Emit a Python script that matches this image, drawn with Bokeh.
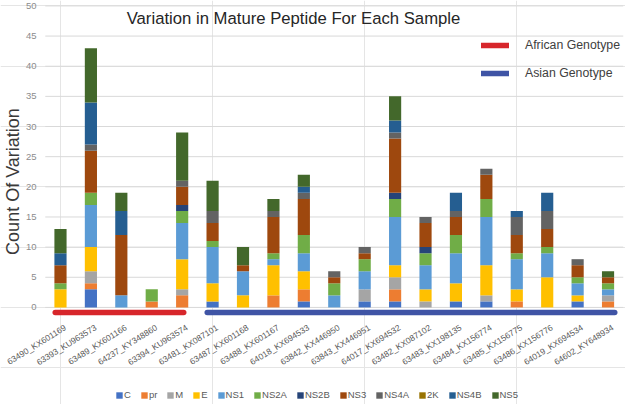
import math
from bokeh.plotting import figure
from bokeh.models import (Range1d, Legend, LegendItem, Label, ColumnDataSource)
from bokeh.core.properties import value
from bokeh.embed import file_html
from bokeh.resources import INLINE

# ---------------- data ----------------
samples = ["63490_KX601169", "63393_KU963573", "63489_KX601166", "64237_KY348860",
           "63394_KU963574", "63481_KX087101", "63487_KX601168", "63488_KX601167",
           "64018_KX694533", "63842_KX446950", "63843_KX446951", "64017_KX694532",
           "63482_KX087102", "63483_KX198135", "63484_KX156774", "63485_KX156775",
           "63486_KX156776", "64019_KX694534", "64602_KY648934"]

segments = ["C", "pr", "M", "E", "NS1", "NS2A", "NS2B", "NS3", "NS4A", "2K", "NS4B", "NS5"]

C    = [0, 3, 0, 0, 0, 1, 0, 0, 1, 0, 1, 1, 0, 1, 1, 0, 0, 1, 0]
pr   = [0, 1, 0, 1, 2, 0, 0, 2, 2, 0, 0, 2, 0, 0, 0, 1, 0, 0, 1]
M    = [0, 2, 0, 0, 1, 0, 0, 0, 0, 0, 2, 2, 1, 0, 1, 0, 0, 0, 1]
E    = [3, 4, 0, 0, 5, 3, 2, 5, 3, 0, 0, 2, 2, 3, 5, 2, 5, 1, 0]
NS1  = [0, 7, 2, 0, 6, 6, 4, 1, 3, 2, 3, 8, 4, 5, 8, 5, 4, 2, 1]
NS2A = [1, 2, 0, 2, 2, 1, 0, 1, 3, 2, 2, 3, 2, 3, 3, 1, 1, 1, 1]
NS2B = [0, 0, 0, 0, 1, 0, 0, 0, 0, 0, 0, 1, 1, 0, 0, 0, 0, 0, 0]
NS3  = [3, 7, 10, 0, 3, 3, 1, 6, 6, 1, 1, 9, 4, 3, 4, 3, 3, 2, 1]
NS4A = [0, 1, 0, 0, 1, 2, 0, 1, 1, 1, 1, 1, 1, 1, 1, 3, 3, 1, 0]
K2   = [0, 0, 0, 0, 0, 0, 0, 0, 0, 0, 0, 0, 0, 0, 0, 0, 0, 0, 0]
NS4B = [2, 7, 4, 0, 0, 0, 0, 0, 1, 0, 0, 2, 0, 3, 0, 1, 3, 0, 0]
NS5  = [4, 9, 3, 0, 8, 5, 3, 2, 2, 0, 0, 4, 0, 0, 0, 0, 0, 0, 1]

african_samples = samples[:5]
asian_samples = samples[5:]
genotype_labels = ["African Genotype", "Asian Genotype"]

y_ticks = [0, 5, 10, 15, 20, 25, 30, 35, 40, 45, 50]
title_text = "Variation in Mature Peptide For Each Sample"
y_title = "Count Of Variation"

# ---------------- style ----------------
colors = ["#4472C4", "#ED7D31", "#A5A5A5", "#FFC000", "#5B9BD5", "#70AD47",
          "#264478", "#9E480E", "#636363", "#997300", "#255E91", "#43682B"]
FONT = "Liberation Sans"

n = len(samples)
idx = list(range(n))
source = ColumnDataSource(dict(
    idx=idx, C=C, pr=pr, M=M, E=E, NS1=NS1, NS2A=NS2A, NS2B=NS2B,
    NS3=NS3, NS4A=NS4A, K2=K2, NS4B=NS4B, NS5=NS5))
stack_cols = ["C", "pr", "M", "E", "NS1", "NS2A", "NS2B", "NS3", "NS4A", "K2", "NS4B", "NS5"]

p = figure(x_range=Range1d(-1.972, 18.574), y_range=Range1d(-16.1, 50.9),
           frame_width=625, frame_height=404,
           min_border_left=0, min_border_right=0, min_border_top=0, min_border_bottom=0,
           x_axis_location=None, y_axis_location=None,
           output_backend="svg", toolbar_location=None,
           background_fill_color="white", border_fill_color="white")
p.outline_line_color = None

# horizontal grid lines at the value ticks, across the category band
p.segment(x0=[-0.5] * len(y_ticks), x1=[n - 0.5] * len(y_ticks), y0=y_ticks, y1=y_ticks,
          line_color="#d9d9d9", line_width=1)

# value tick labels
p.text(x=[-0.789] * len(y_ticks), y=y_ticks, text=[str(t) for t in y_ticks],
       text_align="right", text_baseline="middle", text_font=value(FONT),
       text_font_size="9.5px", text_color="#8c8c8c")

# stacked bars
renderers = p.vbar_stack(stack_cols, x="idx", width=0.4, color=colors,
                         line_width=0, source=source)

# category labels (rotated)
label_src = ColumnDataSource(dict(x=idx, y=[-2.5] * n, text=samples))
p.text(x="x", y="y", text="text", source=label_src, angle=math.radians(32),
       text_align="right", text_baseline="top", x_offset=2,
       text_font=value(FONT), text_font_size="8.5px", text_color="#595959")

# y-axis title
p.text(x=[-1.577], y=[20.88], text=[y_title], angle=math.pi / 2,
       text_align="center", text_baseline="middle", text_font=value(FONT),
       text_font_size="18px", text_color="#3a3a3a")

# genotype underlines
def span(group):
    return samples.index(group[0]), samples.index(group[-1])

a0, a1 = span(african_samples)
b0, b1 = span(asian_samples)
red = p.line(x=[a0 - 0.173, a1 + 0.051], y=[-0.85, -0.85], line_color="#D7262B",
             line_width=5.5, line_cap="round")
blue = p.line(x=[b0 - 0.176, b1 + 0.22], y=[-0.85, -0.85], line_color="#3F54A5",
              line_width=5.5, line_cap="round")

geno_legend = Legend(items=[LegendItem(label=genotype_labels[0], renderers=[red]),
                            LegendItem(label=genotype_labels[1], renderers=[blue])],
                     location=(481, 324), glyph_width=28, glyph_height=14,
                     label_height=14, spacing=14, label_standoff=16, padding=0, margin=0,
                     label_text_font=FONT, label_text_font_size="12.3px",
                     label_text_color="#404040", background_fill_alpha=0,
                     border_line_alpha=0)
p.add_layout(geno_legend)

seg_legend = Legend(items=[LegendItem(label=s, renderers=[r]) for s, r in zip(segments, renderers)],
                    orientation="horizontal", location=(115, 4),
                    glyph_width=8, glyph_height=8, label_height=10, label_width=1,
                    label_standoff=1, spacing=9, padding=0, margin=0,
                    label_text_font=FONT, label_text_font_size="9.5px",
                    label_text_color="#595959", background_fill_alpha=0,
                    border_line_alpha=0)
p.add_layout(seg_legend)

# title
p.add_layout(Label(x=7.66, y=47.9, text=title_text, text_align="center",
                   text_baseline="middle", text_font=FONT, text_font_size="16.7px",
                   text_color="#262626"))

open("out.html", "w").write(file_html(p, INLINE))
